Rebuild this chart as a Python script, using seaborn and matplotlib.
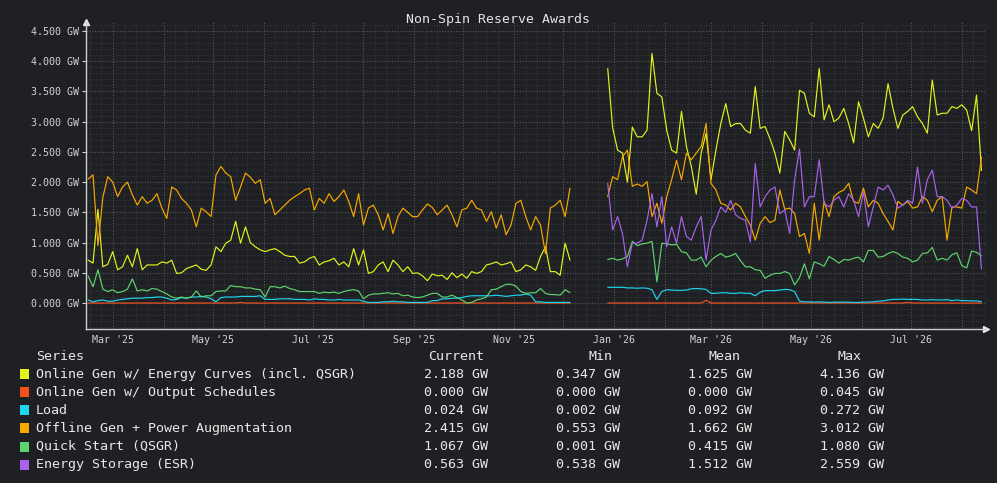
import pandas as pd
import matplotlib
matplotlib.use("Agg")
import matplotlib.pyplot as plt
import matplotlib.dates as mdates
from matplotlib.patches import Rectangle
from matplotlib.ticker import MultipleLocator, FuncFormatter
import seaborn as sns

# ==========================
# DATA (GW, one point every 3 days)
# ==========================
SERIES = [
    "Online Gen w/ Energy Curves (incl. QSGR)",
    "Online Gen w/ Output Schedules",
    "Load",
    "Offline Gen + Power Augmentation",
    "Quick Start (QSGR)",
    "Energy Storage (ESR)",
]

dates_2025 = pd.date_range("2025-02-14", periods=99, freq="3D")
dates_2026 = pd.date_range("2025-12-28", periods=77, freq="3D")

online_curves_2025 = [
    0.71, 0.66, 1.55, 0.60, 0.64, 0.85, 0.55, 0.60, 0.79, 0.60,
    0.90, 0.55, 0.63, 0.63, 0.63, 0.68, 0.66, 0.71, 0.49, 0.50,
    0.57, 0.60, 0.63, 0.56, 0.54, 0.63, 0.93, 0.85, 0.99, 1.04,
    1.35, 0.99, 1.26, 1.00, 0.93, 0.88, 0.85, 0.88, 0.90, 0.85,
    0.79, 0.77, 0.77, 0.66, 0.68, 0.74, 0.77, 0.63, 0.68, 0.70,
    0.74, 0.63, 0.68, 0.60, 0.90, 0.63, 0.88, 0.49, 0.52, 0.63,
    0.68, 0.52, 0.71, 0.63, 0.52, 0.60, 0.49, 0.50, 0.45, 0.37,
    0.48, 0.45, 0.46, 0.39, 0.50, 0.42, 0.48, 0.41, 0.52, 0.49,
    0.52, 0.63, 0.65, 0.68, 0.63, 0.65, 0.68, 0.52, 0.55, 0.63,
    0.60, 0.54, 0.77, 0.93, 0.52, 0.52, 0.46, 0.99, 0.71,
]
output_sched_2025 = [
    0, 0, 0, 0, 0, 0, 0, 0, 0, 0,
    0, 0, 0, 0, 0, 0, 0, 0, 0, 0,
    0, 0, 0, 0, 0, 0, 0, 0, 0, 0,
    0, 0.01, 0, 0, 0, 0, 0, 0, 0, 0,
    0, 0, 0, 0, 0, 0, 0, 0, 0, 0,
    0, 0, 0, 0, 0, 0, 0, 0, 0, 0,
    0, 0, 0, 0, 0, 0, 0, 0, 0, 0,
    0, 0, 0, 0, 0, 0, 0, 0, 0, 0,
    0, 0, 0, 0, 0, 0, 0, 0, 0, 0,
    0, 0, 0, 0, 0, 0, 0, 0, 0,
]
load_2025 = [
    0.05, 0.02, 0.04, 0.05, 0.03, 0.03, 0.05, 0.06, 0.07, 0.08,
    0.08, 0.08, 0.09, 0.09, 0.10, 0.10, 0.08, 0.05, 0.06, 0.09,
    0.08, 0.10, 0.10, 0.11, 0.10, 0.07, 0.02, 0.09, 0.10, 0.10,
    0.10, 0.11, 0.11, 0.11, 0.11, 0.12, 0.06, 0.06, 0.06, 0.07,
    0.07, 0.07, 0.06, 0.06, 0.06, 0.05, 0.07, 0.06, 0.06, 0.05,
    0.05, 0.06, 0.05, 0.05, 0.05, 0.05, 0.03, 0.01, 0.01, 0.01,
    0.02, 0.02, 0.03, 0.02, 0.02, 0.01, 0.01, 0.01, 0.01, 0.01,
    0.04, 0.04, 0.07, 0.07, 0.08, 0.08, 0.09, 0.11, 0.12, 0.12,
    0.12, 0.12, 0.12, 0.13, 0.12, 0.11, 0.12, 0.13, 0.13, 0.15,
    0.13, 0.02, 0.02, 0.01, 0.01, 0.01, 0.01, 0.01, 0.01,
]
offline_2025 = [
    2.05, 2.12, 0.95, 1.75, 2.09, 2.00, 1.76, 1.92, 2.00, 1.79,
    1.62, 1.76, 1.65, 1.70, 1.81, 1.57, 1.40, 1.92, 1.87, 1.73,
    1.65, 1.54, 1.26, 1.57, 1.51, 1.43, 2.12, 2.26, 2.15, 2.09,
    1.70, 1.92, 2.15, 2.08, 1.98, 2.04, 1.65, 1.73, 1.46, 1.54,
    1.62, 1.70, 1.76, 1.81, 1.87, 1.90, 1.54, 1.73, 1.65, 1.81,
    1.68, 1.76, 1.87, 1.68, 1.43, 1.81, 1.29, 1.57, 1.62, 1.46,
    1.21, 1.48, 1.15, 1.43, 1.57, 1.50, 1.43, 1.43, 1.54, 1.64,
    1.58, 1.46, 1.54, 1.62, 1.46, 1.26, 1.54, 1.57, 1.70, 1.57,
    1.54, 1.35, 1.51, 1.24, 1.46, 1.13, 1.29, 1.65, 1.70, 1.43,
    1.21, 1.43, 1.29, 0.82, 1.57, 1.62, 1.70, 1.43, 1.90,
]
quick_start_2025 = [
    0.45, 0.27, 0.55, 0.23, 0.19, 0.22, 0.17, 0.19, 0.23, 0.40,
    0.20, 0.22, 0.20, 0.24, 0.23, 0.19, 0.15, 0.10, 0.08, 0.10,
    0.08, 0.10, 0.20, 0.10, 0.12, 0.12, 0.19, 0.20, 0.20, 0.29,
    0.27, 0.27, 0.25, 0.25, 0.23, 0.22, 0.10, 0.27, 0.27, 0.25,
    0.28, 0.24, 0.22, 0.19, 0.19, 0.19, 0.19, 0.16, 0.18, 0.17,
    0.18, 0.16, 0.19, 0.21, 0.22, 0.20, 0.07, 0.13, 0.15, 0.15,
    0.16, 0.17, 0.15, 0.16, 0.12, 0.13, 0.10, 0.09, 0.10, 0.13,
    0.16, 0.16, 0.10, 0.10, 0.13, 0.09, 0.05, 0.00, 0.01, 0.05,
    0.07, 0.10, 0.22, 0.23, 0.27, 0.31, 0.31, 0.28, 0.19, 0.16,
    0.17, 0.17, 0.24, 0.16, 0.14, 0.14, 0.13, 0.22, 0.17,
]

online_curves_2026 = [
    3.88, 2.90, 2.53, 2.48, 2.00, 2.91, 2.75, 2.75, 2.86, 4.13,
    3.47, 3.41, 2.86, 2.53, 2.48, 3.17, 2.59, 2.26, 1.80, 2.48,
    2.81, 2.04, 2.53, 2.97, 3.30, 2.92, 2.97, 2.97, 2.86, 2.81,
    3.58, 2.89, 2.92, 2.72, 2.48, 2.15, 2.84, 2.70, 2.53, 3.52,
    3.47, 3.14, 3.08, 3.88, 3.03, 3.28, 3.00, 3.06, 3.22, 2.97,
    2.65, 3.33, 3.06, 2.75, 2.97, 2.89, 3.06, 3.63, 3.22, 2.89,
    3.11, 3.17, 3.25, 3.08, 2.97, 2.81, 3.69, 3.11, 3.14, 3.14,
    3.25, 3.22, 3.28, 3.19, 2.85, 3.44, 2.19,
]
output_sched_2026 = [
    0, 0, 0, 0, 0, 0, 0, 0, 0, 0,
    0, 0, 0, 0, 0, 0, 0, 0, 0, 0,
    0.045, 0, 0, 0, 0, 0, 0, 0, 0, 0,
    0, 0, 0, 0, 0, 0, 0, 0, 0, 0,
    0, 0, 0, 0, 0, 0, 0, 0, 0, 0,
    0, 0, 0, 0, 0, 0, 0, 0, 0, 0,
    0, 0.01, 0, 0, 0, 0, 0, 0, 0, 0,
    0, 0, 0, 0, 0, 0, 0,
]
load_2026 = [
    0.26, 0.26, 0.26, 0.26, 0.25, 0.25, 0.245, 0.25, 0.245, 0.22,
    0.06, 0.19, 0.22, 0.215, 0.21, 0.21, 0.215, 0.235, 0.24, 0.235,
    0.225, 0.16, 0.16, 0.17, 0.17, 0.16, 0.16, 0.17, 0.16, 0.16,
    0.12, 0.18, 0.205, 0.205, 0.205, 0.215, 0.225, 0.22, 0.19, 0.03,
    0.02, 0.02, 0.015, 0.02, 0.015, 0.01, 0.015, 0.015, 0.015, 0.015,
    0.01, 0.01, 0.015, 0.015, 0.02, 0.03, 0.035, 0.05, 0.06, 0.06,
    0.065, 0.06, 0.06, 0.06, 0.05, 0.05, 0.055, 0.05, 0.05, 0.055,
    0.04, 0.05, 0.04, 0.04, 0.035, 0.035, 0.024,
]
offline_2026 = [
    1.76, 2.09, 2.04, 2.42, 2.53, 1.93, 1.97, 1.93, 2.01, 1.43,
    1.65, 1.32, 1.76, 2.04, 2.36, 2.04, 2.48, 2.37, 2.48, 2.59,
    2.97, 1.98, 1.87, 1.65, 1.62, 1.54, 1.65, 1.59, 1.43, 1.29,
    1.04, 1.32, 1.43, 1.33, 1.37, 1.87, 1.55, 1.57, 1.48, 1.10,
    1.15, 0.82, 1.65, 1.04, 1.68, 1.43, 1.76, 1.83, 1.87, 1.98,
    1.68, 1.65, 1.90, 1.59, 1.70, 1.65, 1.48, 1.35, 1.21, 1.68,
    1.62, 1.68, 1.57, 1.59, 1.76, 1.70, 1.51, 1.70, 1.76, 1.04,
    1.59, 1.59, 1.57, 1.92, 1.87, 1.81, 2.415,
]
quick_start_2026 = [
    0.72, 0.74, 0.71, 0.73, 0.77, 1.02, 0.95, 0.98, 0.99, 1.02,
    0.35, 0.99, 0.98, 0.96, 0.97, 0.85, 0.83, 0.71, 0.71, 0.76,
    0.60, 0.71, 0.77, 0.82, 0.76, 0.78, 0.82, 0.70, 0.60, 0.60,
    0.55, 0.54, 0.41, 0.46, 0.49, 0.49, 0.52, 0.49, 0.30, 0.42,
    0.65, 0.40, 0.68, 0.65, 0.61, 0.77, 0.72, 0.66, 0.72, 0.71,
    0.74, 0.76, 0.68, 0.87, 0.87, 0.76, 0.77, 0.82, 0.85, 0.82,
    0.76, 0.74, 0.68, 0.71, 0.82, 0.83, 0.92, 0.71, 0.74, 0.71,
    0.80, 0.83, 0.62, 0.58, 0.86, 0.84, 0.78,
]
storage_2026 = [
    1.98, 1.21, 1.43, 1.15, 0.60, 0.99, 0.99, 1.04, 1.37, 1.81,
    1.26, 1.76, 0.93, 1.26, 0.99, 1.43, 1.10, 1.04, 1.26, 1.43,
    0.71, 1.21, 1.37, 1.59, 1.50, 1.70, 1.46, 1.40, 1.37, 1.01,
    2.31, 1.59, 1.76, 1.87, 1.92, 1.48, 1.54, 1.15, 2.04, 2.55,
    1.59, 1.76, 1.76, 2.37, 1.65, 1.59, 1.70, 1.76, 1.59, 1.81,
    1.70, 1.43, 1.84, 1.26, 1.59, 1.92, 1.87, 1.95, 1.79, 1.57,
    1.62, 1.70, 1.65, 2.25, 1.65, 2.04, 2.20, 1.76, 1.76, 1.70,
    1.57, 1.62, 1.73, 1.70, 1.59, 1.59, 0.563,
]

# legend table stats
current_gw = [2.188, 0.000, 0.024, 2.415, 1.067, 0.563]
min_gw = [0.347, 0.000, 0.002, 0.553, 0.001, 0.538]
mean_gw = [1.625, 0.000, 0.092, 1.662, 0.415, 1.512]
max_gw = [4.136, 0.045, 0.272, 3.012, 1.080, 2.559]

# ==========================
# STYLE
# ==========================
BG = "#1f2023"
FG = "#d2d2d2"
COLORS = ["#e2f21c", "#f4511e", "#1ed6ee", "#f7a800", "#5fd36e", "#a862ec"]
PALETTE = dict(zip(SERIES, COLORS))

sns.set_theme(style="dark")
plt.rcParams["font.family"] = ["DejaVu Sans Mono"]
plt.rcParams["axes.facecolor"] = BG
plt.rcParams["figure.facecolor"] = BG


def segment_frame(dates, columns):
    df = pd.DataFrame(columns)
    df["date"] = dates
    return df.melt(id_vars="date", var_name="series", value_name="GW")


seg_2025 = segment_frame(dates_2025, {
    SERIES[0]: online_curves_2025,
    SERIES[1]: output_sched_2025,
    SERIES[2]: load_2025,
    SERIES[3]: offline_2025,
    SERIES[4]: quick_start_2025,
})
seg_2026 = segment_frame(dates_2026, {
    SERIES[0]: online_curves_2026,
    SERIES[1]: output_sched_2026,
    SERIES[2]: load_2026,
    SERIES[3]: offline_2026,
    SERIES[4]: quick_start_2026,
    SERIES[5]: storage_2026,
})

fig = plt.figure(figsize=(9.97, 4.83), dpi=100)
ax = fig.add_axes([0.0866, 0.3188, 0.9024, 0.6357])

for seg in (seg_2025, seg_2026):
    order = [s for s in SERIES if s in set(seg["series"])]
    sns.lineplot(data=seg, x="date", y="GW", hue="series", hue_order=order,
                 palette=PALETTE, estimator=None, linewidth=0.85,
                 legend=False, ax=ax)

ax.set_xlabel("")
ax.set_ylabel("")
ax.set_xlim(pd.Timestamp("2025-02-12 22:00"), pd.Timestamp("2026-08-15 19:00"))
ax.set_ylim(-0.43, 4.65)

# axes ticks / grid
ax.xaxis.set_major_locator(mdates.MonthLocator())
ax.xaxis.set_minor_locator(mdates.DayLocator(bymonthday=[8, 15, 22]))


def month_label(x, pos):
    d = mdates.num2date(x)
    return d.strftime("%b '%y") if d.month % 2 == 1 else ""


ax.xaxis.set_major_formatter(FuncFormatter(month_label))
ax.yaxis.set_major_locator(MultipleLocator(0.5))
ax.yaxis.set_minor_locator(MultipleLocator(0.1))
ax.yaxis.set_major_formatter(FuncFormatter(lambda v, p: f"{v:.3f} GW" if v > -1e-9 else ""))

ax.grid(True, which="major", color="#55575b", linestyle=(0, (1, 1.5)), linewidth=0.8)
ax.grid(True, which="minor", color="#36383c", linestyle=(0, (1, 1.5)), linewidth=0.7)
ax.set_axisbelow(True)

ax.tick_params(axis="x", which="major", length=0, pad=4, labelsize=7.2, labelcolor=FG)
ax.tick_params(axis="y", which="major", length=3, width=0.8, color=FG, pad=2,
               labelsize=7.2, labelcolor=FG, left=True)
ax.tick_params(which="minor", length=0)

for side in ("top", "right"):
    ax.spines[side].set_visible(False)
for side in ("left", "bottom"):
    ax.spines[side].set_visible(True)
    ax.spines[side].set_color("#cfcfcf")
    ax.spines[side].set_linewidth(1.0)

# arrow heads on the axes
ax.plot(0, 1, marker="^", markersize=4.5, color="#e6e6e6", transform=ax.transAxes, clip_on=False)
ax.plot(1, 0, marker=">", markersize=4.5, color="#e6e6e6", transform=ax.transAxes, clip_on=False)

fig.text(0.499, 1 - 19 / 483, "Non-Spin Reserve Awards", ha="center", va="center",
         fontsize=9.5, color="#e4e4e4")

# ==========================
# LEGEND TABLE
# ==========================
W, H = 997, 483
header_y = 356
row_step = 18.1
cols = [("Current", 428, 424, current_gw), ("Min", 588, 556, min_gw),
        ("Mean", 708, 688, mean_gw), ("Max", 837, 820, max_gw)]

fig.text(36 / W, 1 - header_y / H, "Series", ha="left", va="center", fontsize=9.6, color="#e8e8e8")
for name, hx, _, _ in cols:
    fig.text(hx / W, 1 - header_y / H, name, ha="left", va="center", fontsize=9.6, color="#e8e8e8")

for i, name in enumerate(SERIES):
    y = header_y + row_step * (i + 1)
    fig.patches.append(Rectangle((20 / W, 1 - (y + 5) / H), 9 / W, 10 / H,
                                 transform=fig.transFigure, facecolor=COLORS[i],
                                 edgecolor="none"))
    fig.text(36 / W, 1 - y / H, name, ha="left", va="center", fontsize=9.6, color="#e8e8e8")
    for _, _, vx, vals in cols:
        fig.text(vx / W, 1 - y / H, f"{vals[i]:.3f} GW", ha="left", va="center",
                 fontsize=9.6, color="#e8e8e8")

fig.savefig("out.png", dpi=100, facecolor=BG)
plt.close(fig)
